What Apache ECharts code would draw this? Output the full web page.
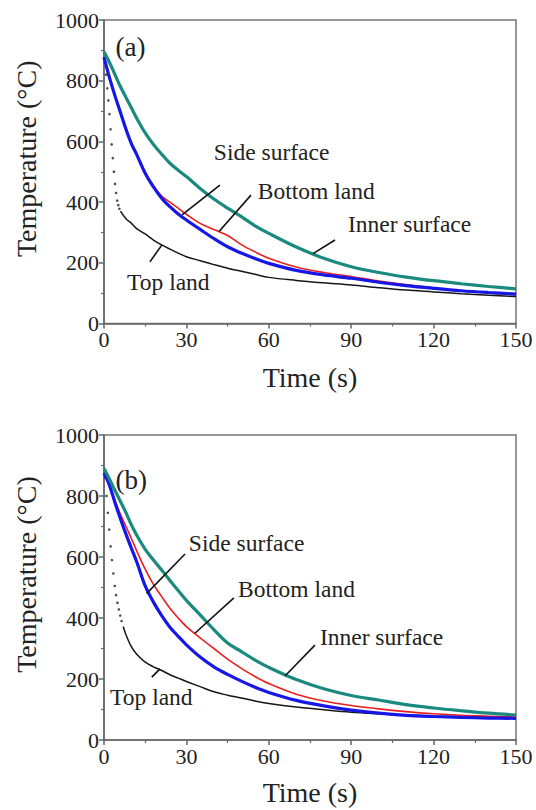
<!DOCTYPE html>
<html><head><meta charset="utf-8">
<script src="https://cdn.jsdelivr.net/npm/echarts/dist/echarts.min.js"></script>
<style>html,body{margin:0;padding:0;background:#fff}#c{width:536px;height:810px}</style>
</head><body><div id="c"></div>
<script>
// ---------- DATA ----------
const xTicks = [0, 30, 60, 90, 120, 150];
const yTicks = [0, 200, 400, 600, 800, 1000];

// Panel (a)
const timeA = [0,2,4,6,8,10,12,15,18,21,24,27,30,35,40,45,50,55,60,70,80,90,100,110,120,130,140,150];
const innerA = [895,860,820,780,745,710,675,628,590,558,528,505,484,445,410,380,352,322,297,252,215,187,168,153,141,131,122,114];
const sideA  = [878,810,750,695,640,592,555,495,450,413,385,361,341,310,280,253,232,214,198,175,160,149,136,125,116,108,102,97];
const bottomA= [878,810,750,695,640,592,555,497,453,420,400,380,360,330,310,290,260,236,215,186,168,155,140,128,117,108,101,95];
const topDotTimeA = [0.4,0.8,1.2,1.6,2.0,2.4,2.8,3.2,3.6,4.0,4.4,4.8,5.2,5.6];
const topDotA     = [860,820,775,735,690,640,590,545,500,460,430,405,390,378];
const topTimeA = [6,8,10,12,15,18,21,24,27,30,35,40,45,50,55,60,70,80,90,100,110,120,130,140,150];
const topA     = [370,345,330,312,295,275,259,245,232,220,207,194,182,172,162,152,142,134,127,118,110,104,98,93,89];

// Panel (b)
const timeB = [0,2,4,6,8,10,12,15,18,21,24,27,30,35,40,45,50,55,60,70,80,90,100,110,120,130,140,150];
const innerB = [890,855,818,782,745,705,670,625,590,557,523,490,458,410,362,318,290,262,238,198,168,146,131,116,105,96,88,82];
const sideB  = [875,835,778,725,675,628,582,505,452,408,370,340,312,272,240,215,193,173,156,130,112,98,88,81,77,74,72,71];
const bottomB= [877,835,785,740,700,660,618,560,510,470,432,400,372,335,300,265,235,208,185,150,128,113,102,93,86,81,78,75];
const topDotTimeB = [0.4,0.9,1.4,1.9,2.4,2.9,3.4,3.9,4.4,4.9,5.4,5.9,6.4];
const topDotB     = [860,800,745,690,635,590,546,505,475,450,428,408,390];
const topTimeB = [7,8,10,12,15,18,21,24,27,30,35,40,45,50,55,60,70,80,90,100,110,120,130,140,150];
const topB     = [372,345,305,280,255,240,228,214,203,192,175,158,147,138,128,120,108,99,91,86,82,79,77,75,73];

// Annotations: [label, textLeft(t,T), leaderFrom(t,T), leaderTo(t,T)]
const annotA = [
  ['Side surface',  [40, 565],  [42.2, 456], [28.4, 358]],
  ['Bottom land',   [56, 437],  [53.5, 423], [41.9, 303]],
  ['Inner surface', [88.8, 328],[84.1, 275], [76.1, 230]],
  ['Top land',      [8.4, 137], [16.7, 203], [21.1, 259]]
];
const annotB = [
  ['Side surface',  [30.9, 646],[29.5, 610], [15.5, 480]],
  ['Bottom land',   [48.8, 495],[47.3, 466], [33.1, 350]],
  ['Inner surface', [78.6, 338],[76.8, 311], [65.9, 210]],
  ['Top land',      [2.2, 141], [17.4, 206], [20.4, 233]]
];
const panelLabels = ['(a)', '(b)'];
const panelLabelPos = [[4.2, 912], [4.2, 852]];

// ---------- CHART ----------
const FONT = 'Liberation Serif';
const chart = echarts.init(document.getElementById('c'), null, {renderer: 'svg'});
const pair = (ts, vs) => ts.map((t, i) => [t, vs[i]]);

function xAxis(g, gap) {
  return {
    gridIndex: g, type: 'value', min: 0, max: 150, interval: 30,
    name: 'Time (s)', nameLocation: 'middle', nameGap: gap,
    nameTextStyle: {fontFamily: FONT, fontSize: 28, color: '#222'},
    axisLine: {show: true, onZero: false, lineStyle: {color: '#666', width: 1.5}},
    axisTick: {show: true, inside: false, length: 5, lineStyle: {color: '#666', width: 1.5}},
    minorTick: {show: true, splitNumber: 2, length: 3, lineStyle: {color: '#666', width: 1.2}},
    axisLabel: {fontFamily: FONT, fontSize: 22, color: '#222', margin: 5,
      formatter: v => xTicks.includes(v) ? String(v) : ''},
    splitLine: {show: false}
  };
}
function yAxis(g) {
  return {
    gridIndex: g, type: 'value', min: 0, max: 1000, interval: 200,
    name: 'Temperature (°C)', nameLocation: 'middle', nameGap: 64, nameRotate: 90,
    nameTextStyle: {fontFamily: FONT, fontSize: 28, color: '#222', padding: [0, 0, 0, 26]},
    axisLine: {show: true, onZero: false, lineStyle: {color: '#666', width: 1.5}},
    axisTick: {show: true, inside: false, length: 5, lineStyle: {color: '#666', width: 1.5}},
    minorTick: {show: true, splitNumber: 2, length: 3, lineStyle: {color: '#666', width: 1.2}},
    axisLabel: {fontFamily: FONT, fontSize: 22, color: '#222', margin: 5,
      formatter: v => yTicks.includes(v) ? String(v) : ''},
    splitLine: {show: false}
  };
}
function lineSeries(g, name, data, color, width, z) {
  return {type: 'line', name, xAxisIndex: g, yAxisIndex: g, data, smooth: 0.35,
    showSymbol: false, symbol: 'none', z, animation: false,
    lineStyle: {color, width}};
}
function dotSeries(g, data) {
  return {type: 'scatter', xAxisIndex: g, yAxisIndex: g, data, symbolSize: 2.6,
    itemStyle: {color: '#222'}, animation: false, z: 2};
}

const C_TEAL = '#1b8a7e', C_BLUE = '#1616e6', C_RED = '#ea2020', C_BLACK = '#161616';

chart.setOption({
  backgroundColor: '#fff',
  animation: false,
  grid: [
    {left: 104, top: 20, width: 412, height: 303.5, show: true, borderColor: '#777', borderWidth: 1.5, outerBoundsMode: 'none'},
    {left: 104, top: 435, width: 412, height: 305, show: true, borderColor: '#777', borderWidth: 1.5, outerBoundsMode: 'none'}
  ],
  xAxis: [xAxis(0, 40), xAxis(1, 38)],
  yAxis: [yAxis(0), yAxis(1)],
  series: [
    dotSeries(0, pair(topDotTimeA, topDotA)),
    lineSeries(0, 'Top land', pair(topTimeA, topA), C_BLACK, 1.5, 2),
    lineSeries(0, 'Bottom land', pair(timeA, bottomA), C_RED, 1.6, 3),
    lineSeries(0, 'Side surface', pair(timeA, sideA), C_BLUE, 3.2, 4),
    lineSeries(0, 'Inner surface', pair(timeA, innerA), C_TEAL, 3.2, 5),
    dotSeries(1, pair(topDotTimeB, topDotB)),
    lineSeries(1, 'Top land', pair(topTimeB, topB), C_BLACK, 1.5, 2),
    lineSeries(1, 'Bottom land', pair(timeB, bottomB), C_RED, 1.6, 3),
    lineSeries(1, 'Side surface', pair(timeB, sideB), C_BLUE, 3.2, 4),
    lineSeries(1, 'Inner surface', pair(timeB, innerB), C_TEAL, 3.2, 5)
  ]
});

function buildGraphics() {
  const els = [];
  [annotA, annotB].forEach((list, g) => {
    const px = p => chart.convertToPixel({gridIndex: g}, p);
    const lp = px(panelLabelPos[g]);
    els.push({type: 'text', x: lp[0], y: lp[1], z: 10,
      style: {text: panelLabels[g], fill: '#222', fontFamily: FONT, fontSize: 27, verticalAlign: 'middle', align: 'left'}});
    list.forEach(([label, tp, a, b]) => {
      const p = px(tp), p1 = px(a), p2 = px(b);
      els.push({type: 'text', x: p[0], y: p[1], z: 10,
        style: {text: label, fill: '#222', fontFamily: FONT, fontSize: 23.5, verticalAlign: 'middle', align: 'left'}});
      els.push({type: 'line', z: 10, shape: {x1: p1[0], y1: p1[1], x2: p2[0], y2: p2[1]},
        style: {stroke: '#111', lineWidth: 1.6}});
    });
  });
  return els;
}
chart.setOption({graphic: buildGraphics()});
</script></body></html>
